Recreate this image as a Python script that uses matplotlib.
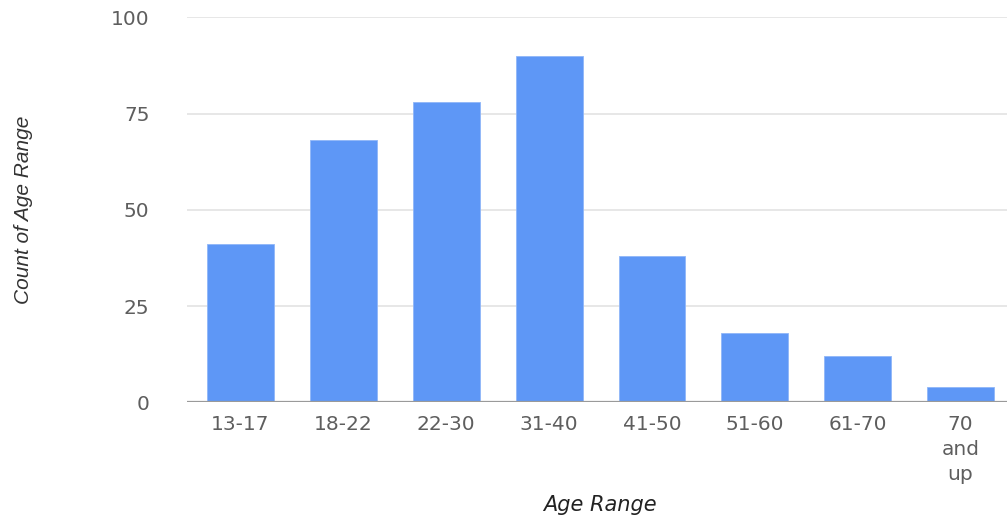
import matplotlib.pyplot as plt

# Data
age_ranges = ['13-17', '18-22', '22-30', '31-40', '41-50', '51-60', '61-70', '70\nand\nup']
counts = [41, 68, 78, 90, 38, 18, 12, 4]
y_ticks = [0, 25, 50, 75, 100]

BAR_COLOR = '#5e97f6'
TEXT_COLOR = '#5e5e5e'

fig = plt.figure(figsize=(10.07, 5.18), dpi=100)
ax = fig.add_axes([0.1857, 0.2234, 0.8193, 0.7432])

x = range(len(age_ranges))
ax.bar(x, counts, width=0.65, color=BAR_COLOR, edgecolor='#8fb6f8', linewidth=0.6, zorder=3)

# Gridlines and baseline
ax.set_ylim(0, 100)
ax.set_xlim(-0.52, 7.5)
ax.set_yticks(y_ticks)
ax.yaxis.grid(True, color='#e3e3e3', linewidth=1.2, zorder=0)
ax.axhline(0, color='#9a9a9a', linewidth=1.6, zorder=4)
for side in ['top', 'right', 'left', 'bottom']:
    ax.spines[side].set_visible(False)

ax.set_xticks(list(x))
ax.set_xticklabels(age_ranges, fontsize=14.5, color=TEXT_COLOR, family='DejaVu Sans',
                   linespacing=1.4)
ax.set_yticklabels([str(t) for t in y_ticks], fontsize=14.5, color=TEXT_COLOR, family='DejaVu Sans')
ax.tick_params(axis='x', length=0, pad=9)
ax.tick_params(axis='y', length=0, pad=27)

ax.set_xlabel('Age Range', fontsize=15, style='italic', color='#222222',
              family='DejaVu Sans', labelpad=8)
ax.yaxis.set_label_coords(-0.187, 0.5)
ax.set_ylabel('Count of Age Range', fontsize=15, style='italic', color='#333333',
              family='Liberation Sans')

fig.savefig('out.png', dpi=100)
